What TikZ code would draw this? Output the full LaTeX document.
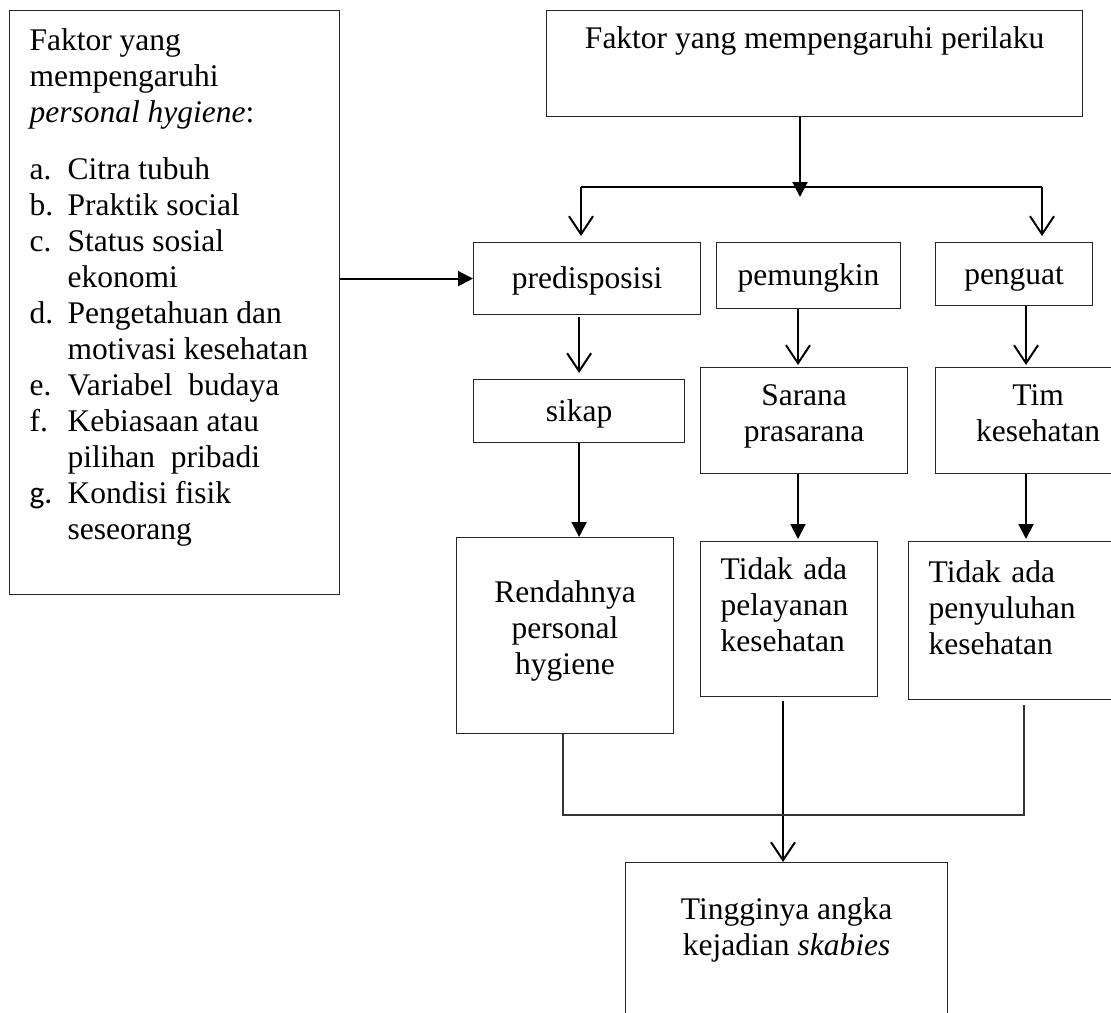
\documentclass[tikz,border=0pt]{standalone}
\usepackage{fontspec}
\setmainfont{Liberation Serif}
\newfontfamily\calibfont{Carlito}
\usetikzlibrary{arrows.meta}

\newcommand{\lbl}[2]{\makebox[38pt][l]{#1}#2}
\newcommand{\cont}[1]{\hspace*{38pt}#1}

\begin{document}
\begin{tikzpicture}[x=1pt,y=-1pt,
    font=\fontsize{31.5pt}{36pt}\selectfont,
    box/.style={draw=black!85, line width=1.2pt, rectangle, anchor=north west, inner sep=0pt, align=center},
    oneline/.style={box, text height=25pt, text depth=5pt},
    arrfill/.style={line width=2pt, -{Triangle[length=15pt,width=15pt]}},
    arropen/.style={line width=2pt, -{Straight Barb[length=18pt,width=24pt]}},
    joinline/.style={draw=black!80, line width=1.3pt}]

      \useasboundingbox (0,0) rectangle (1111,1012);
      \clip (0,0) rectangle (1111,1012);

      \node[box, inner xsep=20pt] (hygbox) at (9,10) {%
        \begin{minipage}[t][584pt][t]{290pt}
          \vspace*{18pt}
          Faktor yang\\
          mempengaruhi\\
          \textit{personal hygiene}:\\[21pt]
          \lbl{a.}{Citra tubuh}\\
          \lbl{b.}{Praktik social}\\
          \lbl{c.}{Status sosial}\\
          \cont{ekonomi}\\
          \lbl{d.}{Pengetahuan dan}\\
          \cont{motivasi kesehatan}\\
          \lbl{e.}{Variabel\ \ budaya}\\
          \lbl{f.}{Kebiasaan atau}\\
          \cont{pilihan\ \ pribadi}\\
          \lbl{\calibfont g.}{Kondisi fisik}\\
          \cont{seseorang}
        \end{minipage}};

      \node[box, minimum width=536pt, minimum height=106pt] (perilaku) at (546,10) {Faktor yang mempengaruhi perilaku\\[6pt]\strut};

      \node[oneline, minimum width=227pt, minimum height=72pt] (predis) at (473,242) {predisposisi};
      \node[oneline, minimum width=184pt, minimum height=66pt] (pemung) at (716,242) {pemungkin};
      \node[oneline, minimum width=157pt, minimum height=63pt] (penguat) at (935,242) {penguat};

      \node[oneline, minimum width=211pt, minimum height=63pt] (sikap) at (473,379) {sikap};
      \node[box, minimum width=207pt, minimum height=106pt] (sarana) at (700,367) {Sarana\\prasarana\\[-20pt]\mbox{}};
      \node[box, minimum width=205pt, minimum height=106pt] (tim) at (935,367) {Tim\\kesehatan\\[-20pt]\mbox{}};

      \node[box, minimum width=217pt, minimum height=196pt] (rendah) at (456,537) {Rendahnya\\personal\\hygiene\\[-20pt]\mbox{}};
      \node[box, minimum width=177pt, minimum height=155pt, text width=137pt, align=left] (pelay) at (700,541) {Tidak ada\\pelayanan\\kesehatan\\[-6pt]\mbox{}};
      \node[box, minimum width=232pt, minimum height=158pt, text width=192pt, align=left] (penyul) at (908,541) {Tidak ada\\penyuluhan\\kesehatan\\[-10pt]\mbox{}};

      \node[box] (tinggi) at (625,862) {%
        \parbox[t][170pt][t]{322pt}{\centering\vspace*{35pt}Tingginya angka\\kejadian \textit{skabies}}};

      \coordinate (splitL) at (581,187);
      \coordinate (splitR) at (1042,187);
      \coordinate (tipM) at (800,197);
      \coordinate (colB) at (798,0);
      \coordinate (colC) at (1026,0);
      \coordinate (outP) at (783,0);
      \coordinate (joinL) at (563,815);
      \coordinate (joinR) at (1024,815);

      \draw[arrfill] (perilaku.south -| tipM) -- (tipM);
      \draw[line width=1.8pt] (splitL) -- (splitR);
      \draw[arropen, shorten >=6pt] (splitL) -- (splitL |- predis.north);
      \draw[arropen, shorten >=6pt] (splitR) -- (splitR |- penguat.north);
      \draw[arrfill] (hygbox.east |- predis.west) -- (predis.west);

      \draw[arropen, shorten <=2pt, shorten >=6pt] (predis.south -| sikap.north) -- (sikap.north);
      \draw[arropen, shorten >=2pt] (pemung.south -| colB) -- (sarana.north -| colB);
      \draw[arropen, shorten >=2pt] (penguat.south -| colC) -- (tim.north -| colC);

      \draw[arrfill] (sikap.south) -- (rendah.north -| sikap.south);
      \draw[arrfill, shorten >=2pt] (sarana.south -| colB) -- (pelay.north -| colB);
      \draw[arrfill, shorten >=2pt] (tim.south -| colC) -- (penyul.north -| colC);

      \draw[arropen, shorten <=4pt] (pelay.south -| outP) -- (tinggi.north -| outP);
      \draw[joinline, shorten >=5pt] (rendah.south -| joinL) -- (joinL) -- (joinR) -- (penyul.south -| joinR);
\end{tikzpicture}
\end{document}
